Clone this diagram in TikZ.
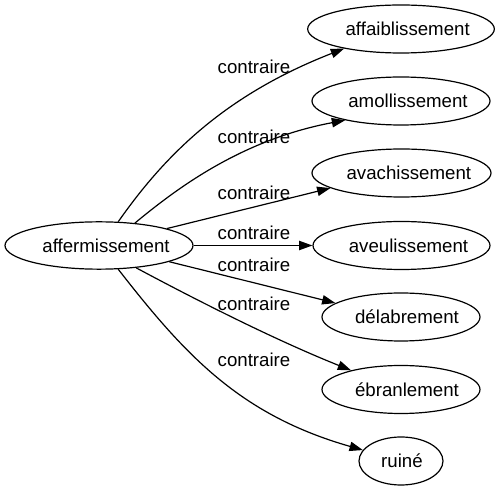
\documentclass[tikz,border=0pt]{standalone}
\usepackage{fontspec}
\setmainfont{Liberation Sans}
\usetikzlibrary{arrows.meta,shapes.geometric}
\newcommand\shtxt[2]{\makebox[0pt]{\hspace*{#1}#2}}
\begin{document}
\begin{tikzpicture}[x=0.75pt,y=-0.75pt,
  every node/.style={font=\fontsize{14}{17}\selectfont},
  ell/.style={draw, ellipse, inner sep=0pt, minimum height=36pt, line width=0.9pt},
  lbl/.style={inner sep=0pt},
  edge/.style={line width=0.9pt, -{Triangle[length=10pt,width=7pt]}}]
\fill[white] (0,0) rectangle (500,491);
\useasboundingbox (0,0) rectangle (500,491);

\node[ell, minimum width=141pt, minimum height=35.5pt] (src) at (99,245.5) {\shtxt{10.5pt}{affermissement}};
\node[ell, minimum width=140pt] (n1) at (401,29) {\shtxt{10pt}{affaiblissement}};
\node[ell, minimum width=133.5pt] (n2) at (401,101) {\shtxt{10.5pt}{amollissement}};
\node[ell, minimum width=134.25pt] (n3) at (401.5,173) {\shtxt{11pt}{avachissement}};
\node[ell, minimum width=132.75pt] (n4) at (401.5,245.5) {\shtxt{10.5pt}{aveulissement}};
\node[ell, minimum width=118.5pt] (n5) at (401,317) {\shtxt{9pt}{délabrement}};
\node[ell, minimum width=118.5pt] (n6) at (401,389.5) {\shtxt{9pt}{ébranlement}};
\node[ell, minimum width=63pt] (n7) at (401,461) {\shtxt{1.5pt}{ruiné}};

\draw[edge] (src.51) .. controls (165,155) and (225,95) .. (n1.199);
\draw[edge] (src.32) .. controls (175,190) and (240,140) .. (n2.199);
\draw[edge] (src.14) -- (n3.192);
\draw[edge] (src.0) -- (n4.180);
\draw[edge] (src.-13) -- (n5.168);
\draw[edge] (src.-31) .. controls (185,294) and (270,338) .. (n6.159);
\draw[edge] (src.-51) .. controls (185,355) and (240,415) .. (n7.164);

\node[lbl] (l1) at (254,67) {contraire};
\node[lbl] (l2) at (254,137) {contraire};
\node[lbl] (l3) at (254,193) {contraire};
\node[lbl] (l4) at (254,233) {contraire};
\node[lbl] (l5) at (254,265) {contraire};
\node[lbl] (l6) at (254,304) {contraire};
\node[lbl] (l7) at (254,360) {contraire};
\end{tikzpicture}
\end{document}
